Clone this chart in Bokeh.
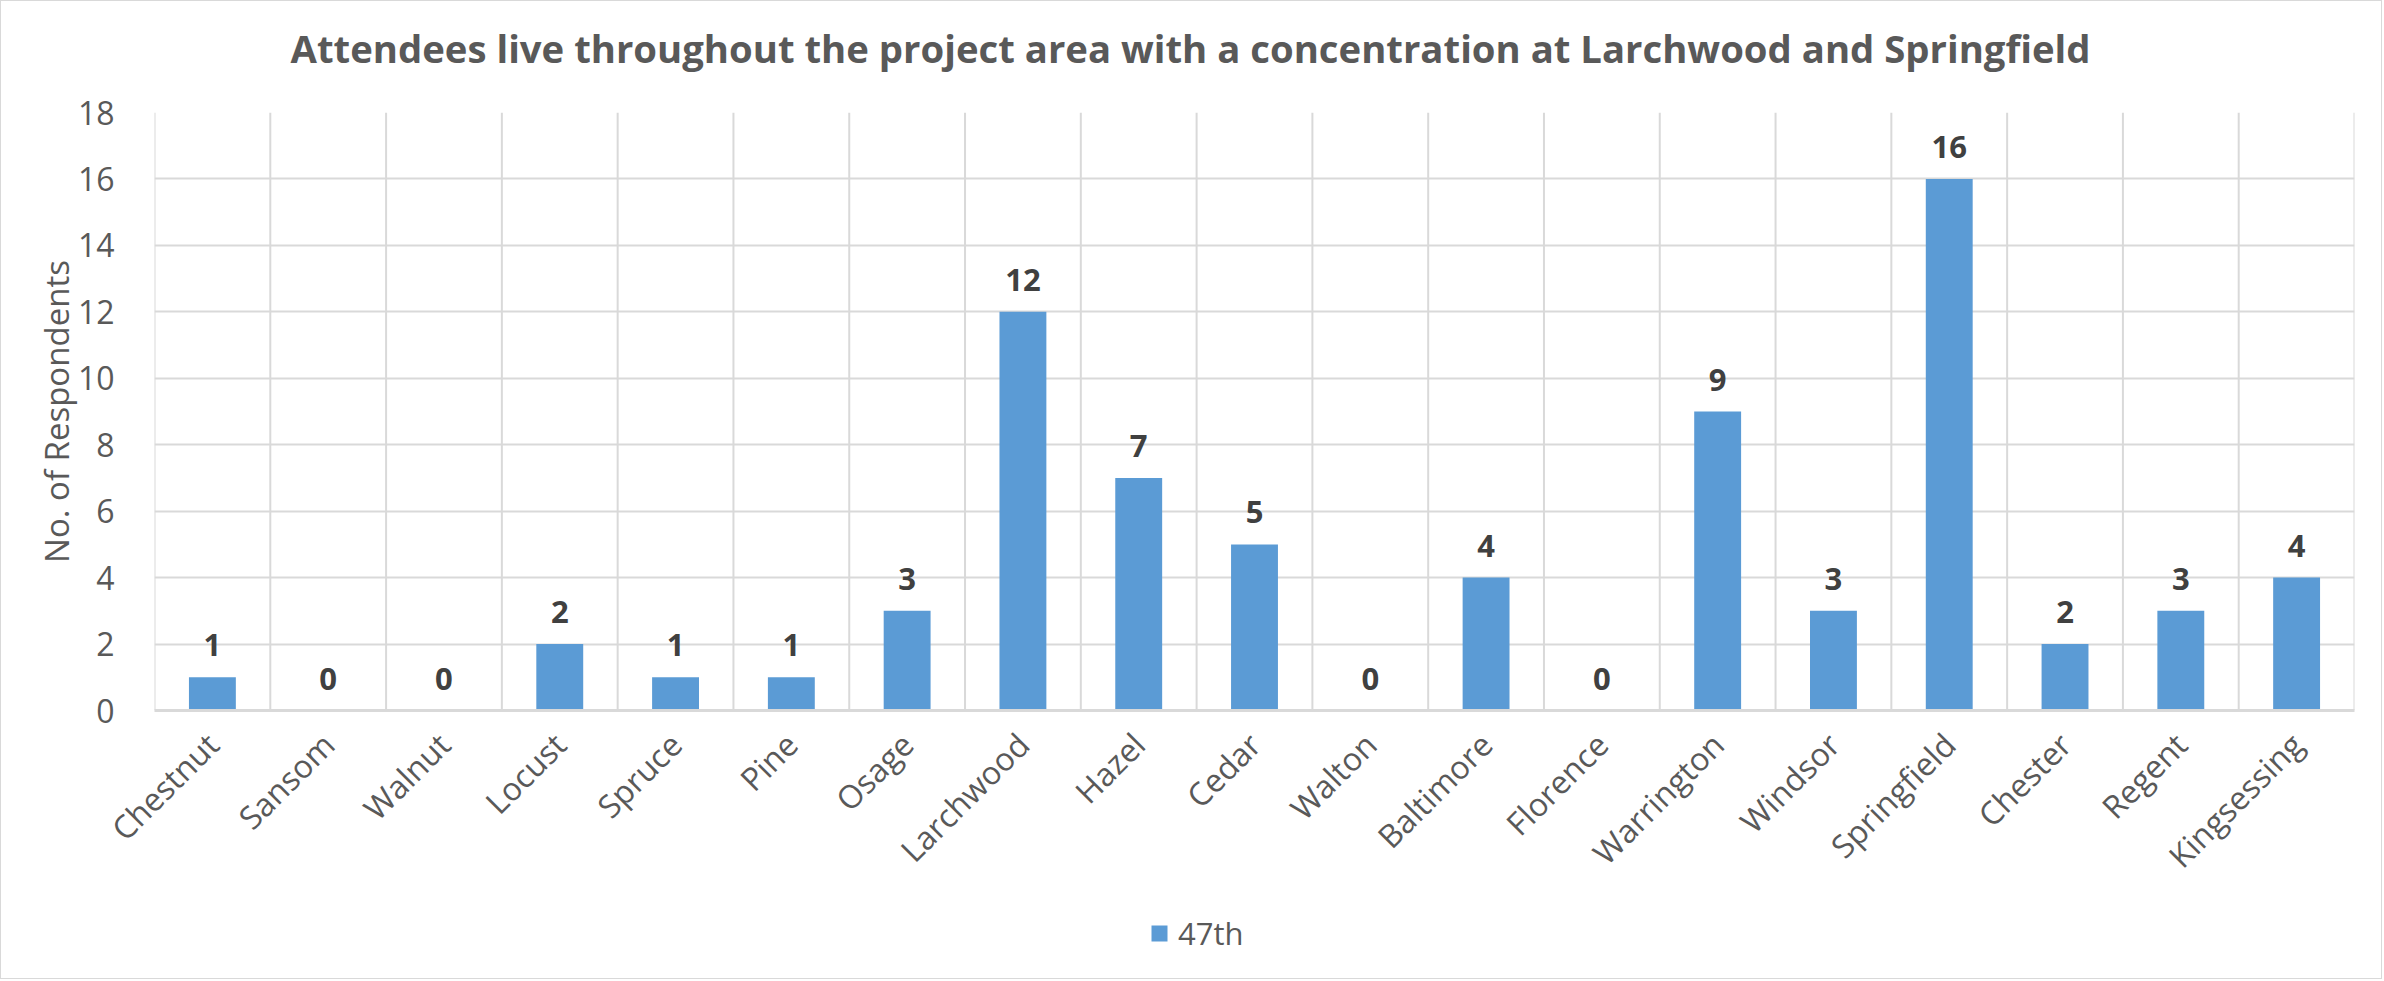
from bokeh.plotting import figure
from bokeh.layouts import column
from bokeh.models import FactorRange, Range1d, FixedTicker, Legend, LegendItem, ColumnDataSource, Label
from bokeh.transform import dodge
from bokeh.core.properties import value
from bokeh.embed import file_html
from bokeh.resources import INLINE
import math

categories = ["Chestnut", "Sansom", "Walnut", "Locust", "Spruce", "Pine", "Osage", "Larchwood",
              "Hazel", "Cedar", "Walton", "Baltimore", "Florence", "Warrington", "Windsor",
              "Springfield", "Chester", "Regent", "Kingsessing"]
respondents = [1, 0, 0, 2, 1, 1, 3, 12, 7, 5, 0, 4, 0, 9, 3, 16, 2, 3, 4]
series_name = "47th"
y_ticks = [0, 2, 4, 6, 8, 10, 12, 14, 16, 18]
title_text = "Attendees live throughout the project area with a concentration at Larchwood and Springfield"
y_label = "No. of Respondents"

FONT = "Open Sans"
GRID = "#d9d9d9"
TXT = "#595959"
BAR = "#5b9bd5"

W = 2380
H0, H1, H2 = 80, 829, 68          # title strip, chart, legend strip
FL, FR, FT, FB = 153, 2353, 111, 709   # frame edges in page pixels
FW = FR - FL

# ---------- title strip ----------
p0 = figure(width=W, height=H0, output_backend="svg", toolbar_location=None, title=None,
            x_axis_type=None, y_axis_type=None, x_range=Range1d(0, FW), y_range=Range1d(0, H0),
            min_border=0)
p0.outline_line_color = None
p0.grid.visible = False
p0.background_fill_color = "white"
p0.border_fill_color = "white"
p0.add_layout(Label(x=136, y=34, text=title_text, text_font=FONT, text_font_size="38.3px",
                    text_font_style="bold", text_color=TXT, text_align="left",
                    text_baseline="alphabetic"))

# ---------- main chart ----------
p = figure(width=W, height=H1, output_backend="svg", toolbar_location=None, title=None,
           x_range=FactorRange(factors=categories, range_padding=0),
           y_range=Range1d(0, 18))
p.min_border_left = FL
p.min_border_right = W - FR
p.min_border_top = FT - H0
p.min_border_bottom = H0 + H1 - FB
p.outline_line_color = None
p.background_fill_color = "white"
p.border_fill_color = "white"

src = ColumnDataSource(dict(cat=categories, val=respondents, lbl=[str(v) for v in respondents]))

# vertical category boundary lines
p.segment(x0=dodge("cat", -0.5, range=p.x_range), y0=0, x1=dodge("cat", -0.5, range=p.x_range), y1=18,
          source=src, line_color=GRID, line_width=2)
p.segment(x0=dodge("cat", 0.5, range=p.x_range), y0=0, x1=dodge("cat", 0.5, range=p.x_range), y1=18,
          source=ColumnDataSource(dict(cat=categories[-1:])), line_color=GRID, line_width=2)

bars = p.vbar(x="cat", top="val", width=0.405, source=src, fill_color=BAR, line_color=None)

p.text(x="cat", y="val", text="lbl", source=src, text_font=value(FONT), text_font_style="bold",
       text_font_size="31px", text_color="#404040", text_align="center", text_baseline="alphabetic",
       y_offset=-32)

p.xgrid.visible = False
p.ygrid.ticker = FixedTicker(ticks=y_ticks)
p.ygrid.grid_line_color = GRID
p.ygrid.grid_line_width = 2

p.yaxis.ticker = FixedTicker(ticks=y_ticks)
p.yaxis.axis_line_color = None
p.yaxis.major_tick_line_color = None
p.yaxis.minor_tick_line_color = None
p.yaxis.major_label_standoff = 34
p.yaxis.major_label_text_font = FONT
p.yaxis.major_label_text_font_size = "32px"
p.yaxis.major_label_text_color = TXT
p.yaxis.axis_label = y_label
p.yaxis.axis_label_text_font = FONT
p.yaxis.axis_label_text_font_size = "33px"
p.yaxis.axis_label_text_font_style = "normal"
p.yaxis.axis_label_text_color = TXT
p.yaxis.axis_label_standoff = -4

p.xaxis.axis_line_color = GRID
p.xaxis.axis_line_width = 3
p.xaxis.major_tick_line_color = None
p.xaxis.minor_tick_line_color = None
p.xaxis.major_label_orientation = math.pi / 4
p.xaxis.major_label_standoff = 22
p.xaxis.major_label_text_font = FONT
p.xaxis.major_label_text_font_size = "32px"
p.xaxis.major_label_text_color = TXT

# ---------- legend strip ----------
p2 = figure(width=W, height=H2, output_backend="svg", toolbar_location=None, title=None,
            x_axis_type=None, y_axis_type=None,
            x_range=FactorRange(factors=categories), y_range=Range1d(1000, 1001),
            min_border=0)
p2.outline_line_color = None
p2.grid.visible = False
p2.background_fill_color = "white"
p2.border_fill_color = "white"
swatch = p2.vbar(x=categories, top=respondents, width=0.405, fill_color=BAR, line_color=None)
legend = Legend(items=[LegendItem(label=series_name, renderers=[swatch])],
                location=(995, 24), orientation="horizontal",
                label_text_font=FONT, label_text_font_size="31px", label_text_color=TXT,
                glyph_width=20, glyph_height=20, label_standoff=9,
                padding=0, margin=0,
                border_line_color=None, background_fill_alpha=0)
p2.add_layout(legend, "center")

layout = column(p0, p, p2, spacing=0)
layout.styles = {"border": "1px solid #d9d9d9"}

open("out.html", "w").write(file_html(layout, INLINE))
